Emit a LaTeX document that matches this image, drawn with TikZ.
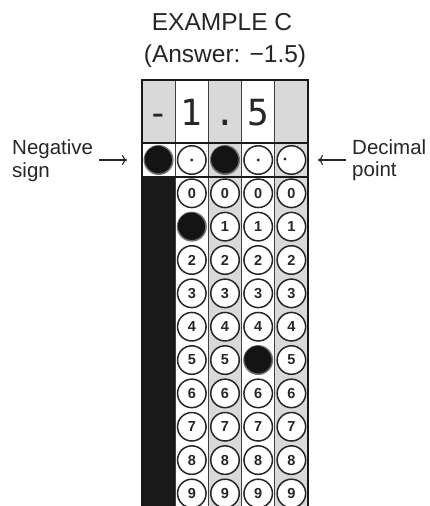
\documentclass[tikz,border=0pt]{standalone}
\usepackage{fontspec}
\setmainfont{Liberation Sans}
\newfontfamily\gridmono{DejaVu Sans Mono}
\usetikzlibrary{arrows.meta}
\begin{document}
\begin{tikzpicture}[x=1pt,y=-1pt,
  title/.style={font=\fontsize{24.5}{24.5}\selectfont, inner sep=0pt, anchor=base, text=black!85},
  lab/.style={font=\fontsize{20.5}{20.5}\selectfont, inner sep=0pt, anchor=base west, text=black!85},
  ent/.style={font=\gridmono\fontsize{36}{36}\selectfont, inner sep=0pt, anchor=base, text=black!85},
  bub/.style={circle, draw=black!85, line width=1.5pt, minimum size=28.5pt, inner sep=0pt, fill=white, text=black!85, font=\fontsize{14.5}{14.5}\selectfont\bfseries},
  filled/.style={circle, draw=black!55, line width=1.5pt, minimum size=28.5pt, inner sep=0pt, fill=black!90},
  pointer/.style={-{To[length=5pt,width=10pt]}, line width=1.1pt, black!85},
  gridline/.style={black!75, line width=0.8pt},
  heavy/.style={black!90, line width=2.2pt}
]
\useasboundingbox (0,0) rectangle (429,506);

% titles
\node[title] (t1) at (222,30) {EXAMPLE C};
\node[title] (t2) at (225,62) {(Answer: −1.5)};

% column backgrounds
\fill[black!15] (208.4,80) rectangle (241.6,506);
\fill[black!15] (274.8,80) rectangle (308,506);
\fill[black!15] (142,80) rectangle (175.2,143);
\fill[black!90] (142,177) rectangle (175.2,506);

% grid lines
\foreach \x in {175.2,208.4,241.6,274.8} \draw[gridline] (\x,80) -- (\x,506);
\draw[heavy] (142,506) -- (142,80) -- (308,80) -- (308,506);
\draw[heavy] (142,143) -- (308,143);
\draw[heavy] (142,177) -- (308,177);

% written entries
\node[ent] (e1) at (158.6,125) {-};
\node[ent] (e2) at (191.8,125) {1};
\node[ent] (e3) at (225,125) {.};
\node[ent] (e4) at (258.2,125) {5};

% sign / decimal bubble row
\node[filled] (s1) at (158.6,160) {};
\node[bub] (s2) at (191.8,160) {};
\node[filled] (s3) at (225,160) {};
\node[bub] (s4) at (258.2,160) {};
\node[bub] (s5) at (291.4,160) {};
\fill[black!85] (s2) circle[radius=1.6];
\fill[black!85] (s4) circle[radius=1.6];
\fill[black!85] (s5) ++(-6.5,-1) circle[radius=1.6];

% digit bubbles
\foreach \c/\x in {2/191.8,3/225,4/258.2,5/291.4}{
  \foreach \k in {0,...,9}{
    \pgfmathsetmacro\yy{193.3+33.35*\k}
    \ifnum\numexpr\c*10+\k\relax=21 \def\kind{filled}\def\txt{}%
    \else\ifnum\numexpr\c*10+\k\relax=45 \def\kind{filled}\def\txt{}%
    \else \def\kind{bub}\edef\txt{\k}\fi\fi
    \node[\kind] (d\c-\k) at (\x,\yy) {\txt};
  }
}
\foreach \n in {s1,s3,d2-1,d4-5} \fill[black!92] (\n) ++(-0.7,-0.9) circle[radius=13.2];

% labels and pointers
\node[lab] (neg1) at (12,154) {Negative};
\node[lab] (neg2) at (12,177) {sign};
\node[lab] (dec1) at (352,154) {Decimal};
\node[lab] (dec2) at (352,176) {point};
\coordinate (na) at (99,160);
\coordinate (nb) at (127,160);
\coordinate (da) at (346,160);
\coordinate (db) at (318,160);
\draw[pointer] (na) -- (nb);
\draw[pointer] (da) -- (db);
\end{tikzpicture}
\end{document}
